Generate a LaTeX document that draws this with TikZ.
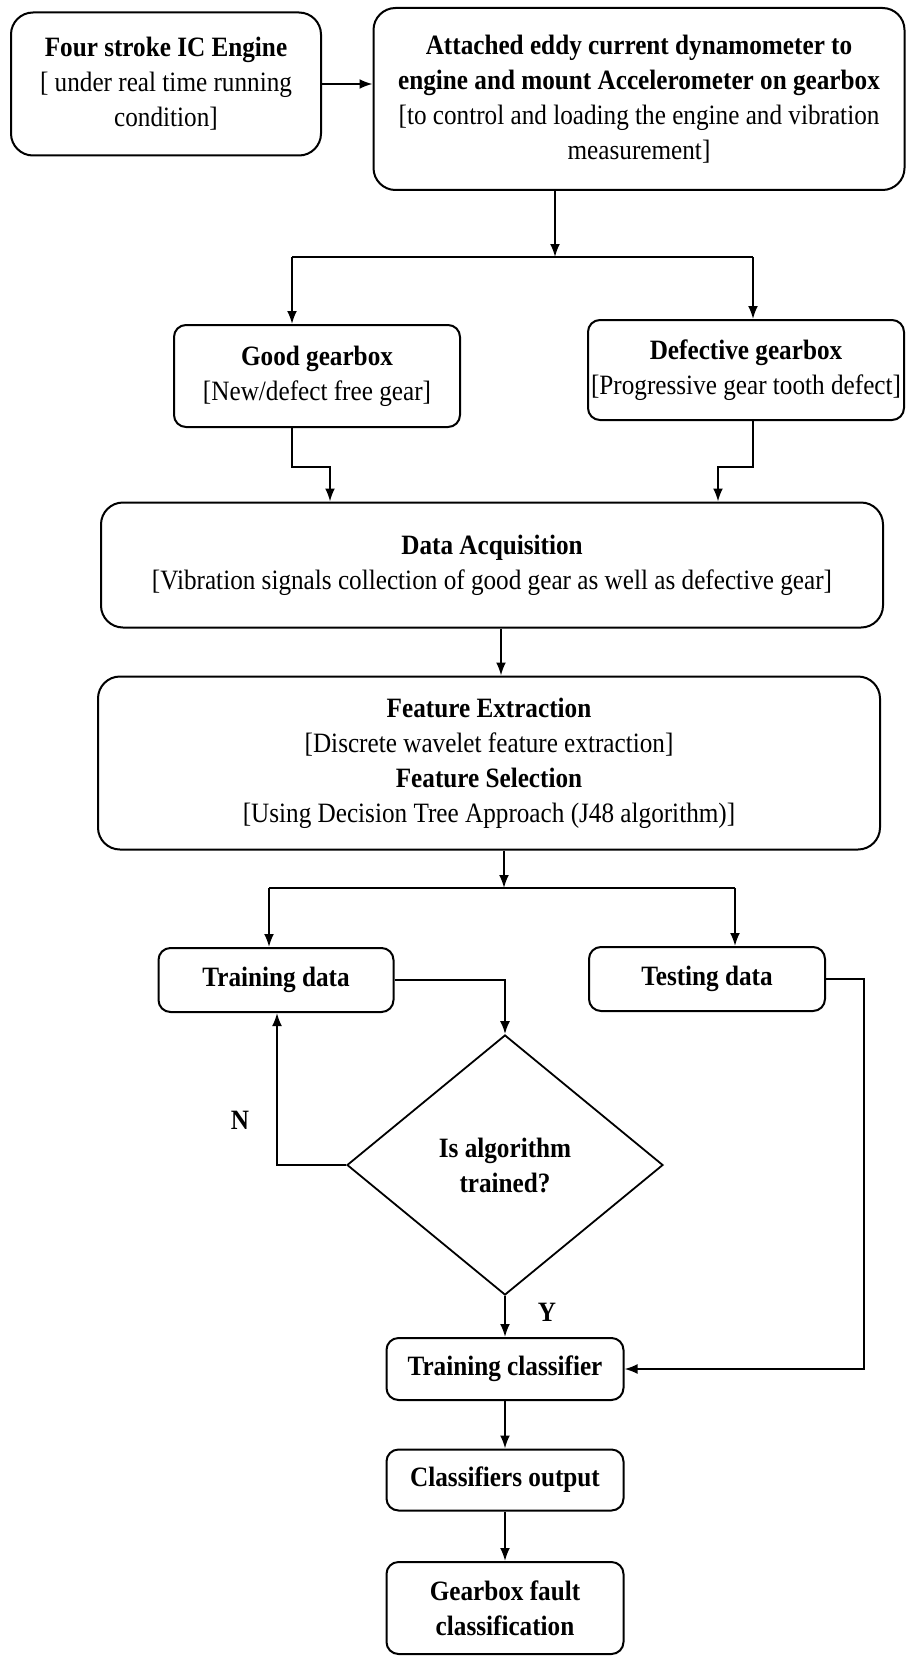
\documentclass[tikz,border=0pt]{standalone}
\usepackage{fontspec}
\setmainfont{Liberation Serif}[FakeStretch=0.9]
\usetikzlibrary{arrows.meta,shapes.geometric}
\begin{document}
\begin{tikzpicture}[x=1pt,y=-1pt,
  every node/.style={font=\fontsize{28}{35}\selectfont, align=center},
  box/.style={draw, line width=2pt, rounded corners=22pt, inner sep=0pt},
  sbox/.style={draw, line width=2pt, rounded corners=12pt, inner sep=0pt},
  decision/.style={diamond, draw, line width=1.8pt, aspect=1.215, inner sep=0pt},
  link/.style={line width=2pt},
  arr/.style={link, -{Latex[length=13pt,width=10pt]}},
  lbl/.style={font=\fontsize{28}{35}\selectfont\bfseries}]
\useasboundingbox (0,0) rectangle (908,1656);

% process boxes
\node[box, minimum width=310, minimum height=143] (engine) at (166,84)
  {\textbf{Four stroke IC Engine}\\{[} under real time running\\condition{]}};
\node[box, minimum width=531, minimum height=182] (dyno) at (639,99)
  {\textbf{Attached eddy current dynamometer to}\\
   \textbf{engine and mount Accelerometer on gearbox}\\
   {[}to control and loading the engine and vibration\\measurement{]}};
\node[sbox, minimum width=286, minimum height=102] (good) at (317,376)
  {\textbf{Good gearbox}\\{[}New/defect free gear{]}};
\node[sbox, minimum width=316, minimum height=100] (defect) at (746,370)
  {\textbf{Defective gearbox}\\{[}Progressive gear tooth defect{]}};
\node[box, minimum width=782, minimum height=125] (data) at (492,565)
  {\textbf{Data Acquisition}\\{[}Vibration signals collection of good gear as well as defective gear{]}};
\node[box, minimum width=782, minimum height=173] (feat) at (489,763)
  {\textbf{Feature Extraction}\\{[}Discrete wavelet feature extraction{]}\\
   \textbf{Feature Selection}\\{[}Using Decision Tree Approach (J48 algorithm){]}};
\node[sbox, minimum width=235, minimum height=64] (train) at (276,980)
  {\textbf{Training data}};
\node[sbox, minimum width=236, minimum height=64] (test) at (707,979)
  {\textbf{Testing data}};
\node[decision, minimum width=316, minimum height=260] (dia) at (505,1165)
  {\textbf{Is algorithm}\\\textbf{trained?}};
\node[sbox, minimum width=237, minimum height=62] (cls) at (505,1369)
  {\textbf{Training classifier}};
\node[sbox, minimum width=237, minimum height=61] (out) at (505,1480)
  {\textbf{Classifiers output}};
\node[sbox, minimum width=237, minimum height=92] (fault) at (505,1608)
  {\textbf{Gearbox fault}\\\textbf{classification}};

% branch labels
\node[lbl] (nlab) at (240,1120) {N};
\node[lbl] (ylab) at (547,1312) {Y};

% junction and bend points
\coordinate (j1) at (555,257);
\coordinate (j1l) at (292,257);
\coordinate (j1r) at (753,257);
\coordinate (gk) at (330,467);
\coordinate (dk) at (718,467);
\coordinate (m1) at (501,650);
\coordinate (j2) at (504,888);
\coordinate (j2l) at (269,888);
\coordinate (j2r) at (735,888);
\coordinate (nk) at (277,1165);
\coordinate (tr) at (864,979);

% connectors
\draw[arr] (engine.east) -- (engine.east -| dyno.west);
\draw[arr] (j1 |- dyno.south) -- (j1);
\draw[link] (j1l) -- (j1r);
\draw[arr] (j1l) -- (j1l |- good.north);
\draw[arr] (j1r) -- (j1r |- defect.north);
\draw[arr] (j1l |- good.south) |- (gk) -- (gk |- data.north);
\draw[arr] (j1r |- defect.south) |- (dk) -- (dk |- data.north);
\draw[arr] (m1 |- data.south) -- (m1 |- feat.north);
\draw[arr] (j2 |- feat.south) -- (j2);
\draw[link] (j2l) -- (j2r);
\draw[arr] (j2l) -- (j2l |- train.north);
\draw[arr] (j2r) -- (j2r |- test.north);
\draw[arr] (train.east) -| (dia.north);
\draw[arr] (dia.west) -- (nk) -- (nk |- train.south);
\draw[arr] (test.east) -- (tr) |- (cls.east);
\draw[arr] (dia.south) -- (cls.north);
\draw[arr] (cls.south) -- (out.north);
\draw[arr] (out.south) -- (fault.north);
\end{tikzpicture}
\end{document}
